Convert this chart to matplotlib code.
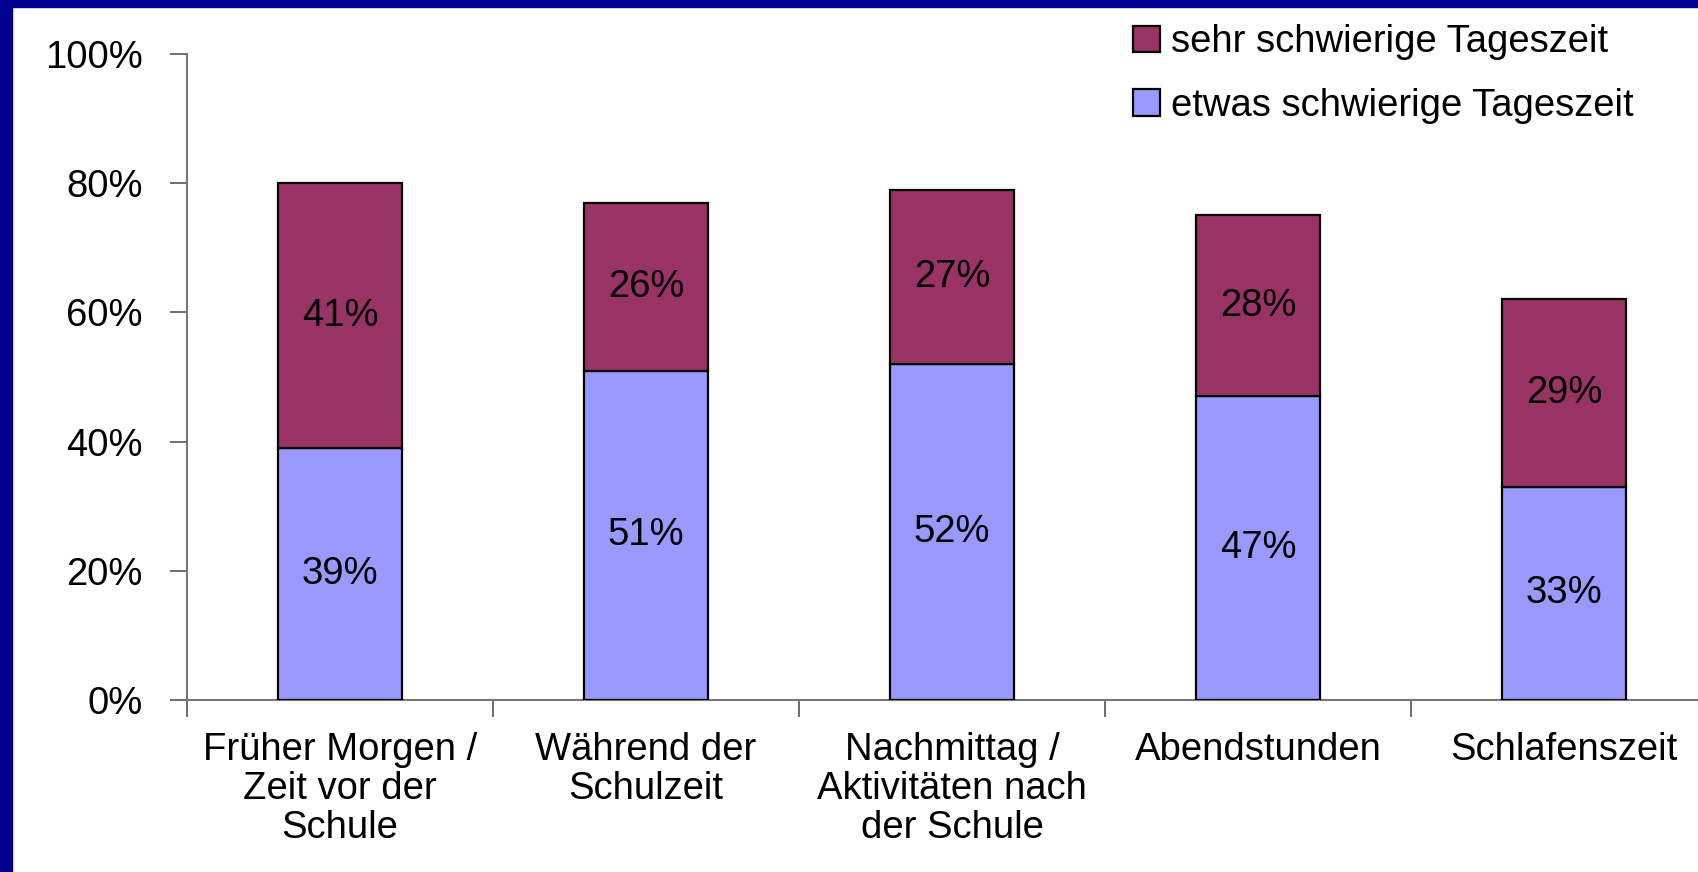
import matplotlib
matplotlib.use("Agg")
import matplotlib.pyplot as plt
from matplotlib.patches import Rectangle

plt.rcParams['font.family'] = ['Liberation Sans', 'DejaVu Sans']

# data
categories = ["Früher Morgen /\nZeit vor der\nSchule", "Während der\nSchulzeit",
              "Nachmittag /\nAktivitäten nach\nder Schule", "Abendstunden", "Schlafenszeit"]
etwas = [39, 51, 52, 47, 33]
sehr = [41, 26, 27, 28, 29]
labels = ["sehr schwierige Tageszeit", "etwas schwierige Tageszeit"]

c_sehr = "#993366"
c_etwas = "#9999FF"
W, H = 1699, 872
fs = 27.5

fig = plt.figure(figsize=(W / 100, H / 100), dpi=100)
fig.patch.set_facecolor("white")

# blue slide frame (left and top)
fig.patches.append(Rectangle((0, 0), 12 / W, 1, transform=fig.transFigure, color="#000090", zorder=0))
fig.patches.append(Rectangle((0, 1 - 7 / H), 1, 7 / H, transform=fig.transFigure, color="#000090", zorder=0))

# axes run past the right edge, like the original
ax = fig.add_axes([187 / W, (H - 700) / H, 1530 / W, 646 / H])
x = range(len(categories))
bw = 0.405
ax.bar(x, etwas, bw, color=c_etwas, edgecolor="black", linewidth=1.6, label=labels[1], zorder=3)
ax.bar(x, sehr, bw, bottom=etwas, color=c_sehr, edgecolor="black", linewidth=1.6, label=labels[0], zorder=3)

for i in x:
    ax.text(i, etwas[i] / 2, f"{etwas[i]}%", ha="center", va="center", fontsize=fs, zorder=4)
    ax.text(i, etwas[i] + sehr[i] / 2, f"{sehr[i]}%", ha="center", va="center", fontsize=fs, zorder=4)

ax.set_xlim(-0.5, 4.5)
ax.set_ylim(0, 100)
ax.set_yticks(range(0, 101, 20))
ax.set_yticklabels([f"{v}%" for v in range(0, 101, 20)], fontsize=fs)
ax.set_xticks([i + 0.5 for i in range(-1, 5)])
ax.set_xticklabels([])
ax.set_xticks(list(x), minor=True)
ax.set_xticklabels(categories, minor=True, fontsize=fs, linespacing=1.1, va="top")
ax.tick_params(axis="x", which="minor", length=0, pad=23)
ax.tick_params(axis="x", which="major", length=12, width=1.2, color="#555555", direction="out")
ax.tick_params(axis="y", length=12, width=1.2, color="#555555", pad=20)

for s in ["top", "right"]:
    ax.spines[s].set_visible(False)
for s in ["left", "bottom"]:
    ax.spines[s].set_color("#777777")
    ax.spines[s].set_linewidth(1.5)
ax.spines["left"].set_zorder(5)

h, l = ax.get_legend_handles_labels()
leg = fig.legend(h[::-1], l[::-1], loc="upper left", bbox_to_anchor=(1118 / W, 1 - 9 / H),
                 frameon=False, fontsize=fs, handlelength=0.7, handleheight=0.7,
                 handletextpad=0.3, labelspacing=0.72, borderaxespad=0)
for p in leg.get_patches():
    p.set_linewidth(1.6)

fig.savefig("out.png", dpi=100)
